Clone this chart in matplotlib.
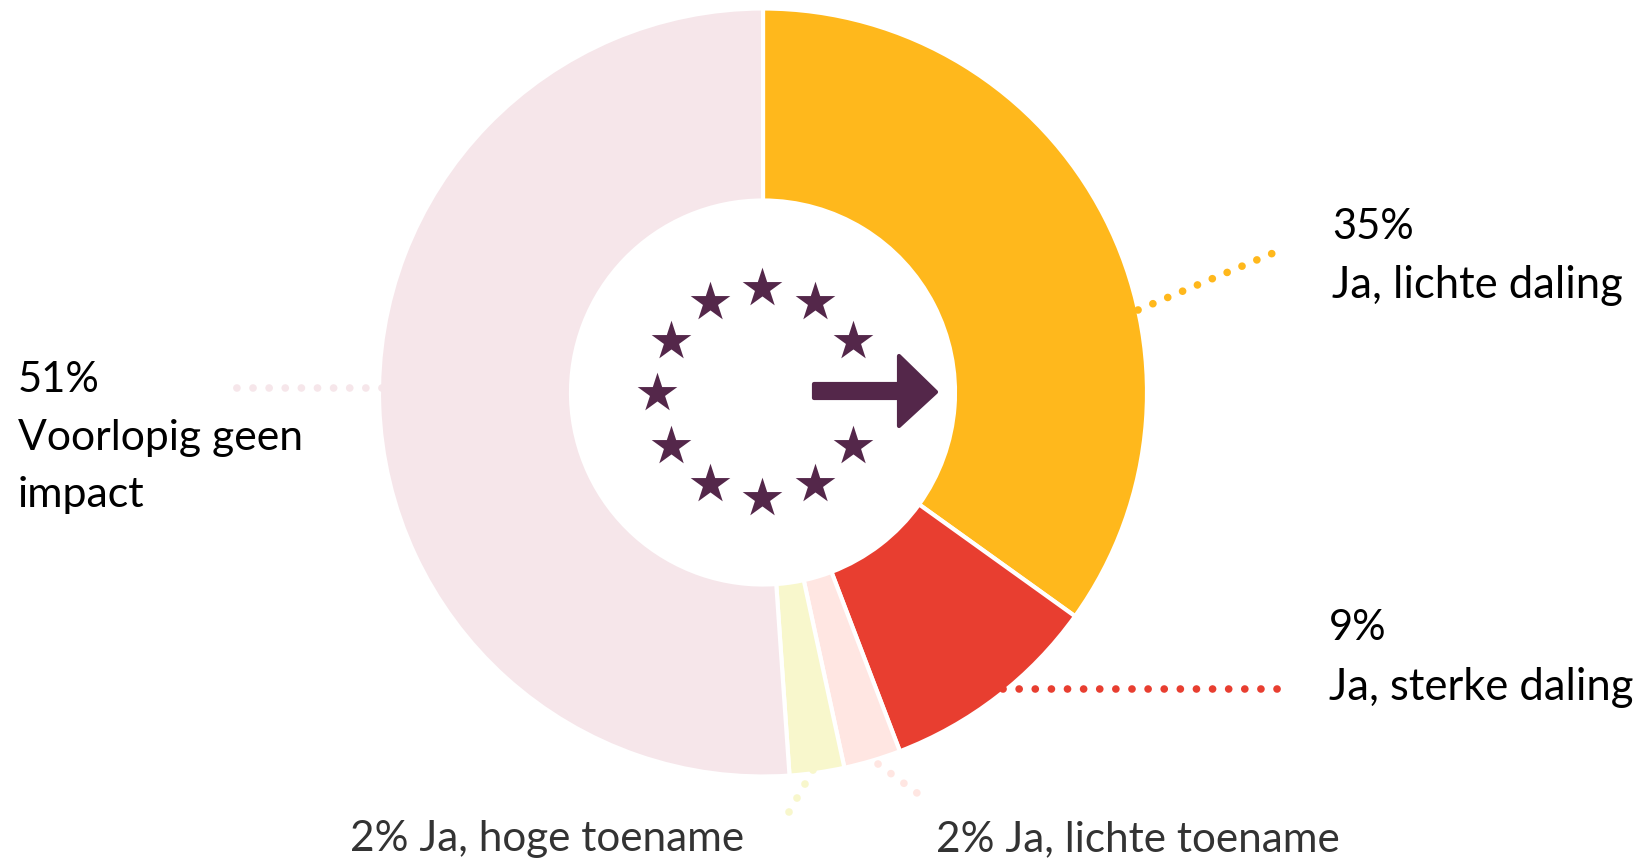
import numpy as np
import matplotlib
matplotlib.use('Agg')
from matplotlib import pyplot as plt
from matplotlib.patches import Polygon

# slices clockwise from the top
slice_names = ['Ja, lichte daling', 'Ja, sterke daling', 'Ja, lichte toename',
               'Ja, hoge toename', 'Voorlopig geen impact']
slice_values = [34.9, 9.3, 2.4, 2.3, 51.1]
slice_colors = ['#FFB81C', '#E83E30', '#FFE6E2', '#F8F7CC', '#F6E6EA']

star_angles = [90, 60, 30, -30, -60, -90, -120, -150, 180, 150, 120]
dark = '#54274A'

plt.rcParams['font.family'] = ['Lato', 'DejaVu Sans']

fig = plt.figure(figsize=(16.41, 8.61), dpi=100)
ax = fig.add_axes([0, 0, 1, 1])

# y axis is flipped below, so counterclock here reads clockwise on screen
ax.pie(slice_values, colors=slice_colors, startangle=270, counterclock=True,
       center=(763, 392.5), radius=384,
       wedgeprops=dict(width=192, edgecolor='white', linewidth=3))
ax.set_xlim(0, 1641)
ax.set_ylim(861, 0)
ax.set_aspect('equal')
ax.axis('off')

for a in star_angles:
    x = 762 + 105 * np.cos(np.radians(a))
    y = 392 - 105 * np.sin(np.radians(a))
    ax.scatter([x], [y + 1], marker='*', s=900, color=dark, linewidths=0, zorder=5)

arrow = [(814, 384), (899, 384), (899, 356), (936, 392), (899, 426), (899, 398), (814, 398)]
ax.add_patch(Polygon(arrow, closed=True, facecolor=dark, edgecolor=dark,
                     linewidth=3, joinstyle='round', zorder=5))

# dotted leader lines
leaders = [
    ((1138, 310), (1278, 251), slice_colors[0]),
    ((1003, 689), (1290, 689), slice_colors[1]),
    ((878, 764), (917, 793), slice_colors[2]),
    ((813, 770), (789, 812), slice_colors[3]),
    ((382, 388), (225, 388), slice_colors[4]),
]
for p0, p1, c in leaders:
    ax.plot([p0[0], p1[0]], [p0[1], p1[1]], color=c, linewidth=5.5,
            linestyle=(0, (0.01, 2.1)), dash_capstyle='round', zorder=1)

ax.text(1332, 227, '35%', fontsize=30, color='black', va='center')
ax.text(1332, 285, 'Ja, lichte daling', fontsize=31.4, color='black', va='center')
ax.text(1329, 628, '9%', fontsize=30, color='black', va='center')
ax.text(1329, 687, 'Ja, sterke daling', fontsize=31.4, color='black', va='center')
ax.text(18, 380, '51%', fontsize=30, color='black', va='center')
ax.text(18, 438, 'Voorlopig geen', fontsize=30.7, color='black', va='center')
ax.text(18, 495, 'impact', fontsize=31, color='black', va='center')
ax.text(350, 839, '2% Ja, hoge toename', fontsize=30.4, color='#333333', va='center')
ax.text(936, 839, '2% Ja, lichte toename', fontsize=30.4, color='#333333', va='center')

fig.savefig('out.png', dpi=100)
